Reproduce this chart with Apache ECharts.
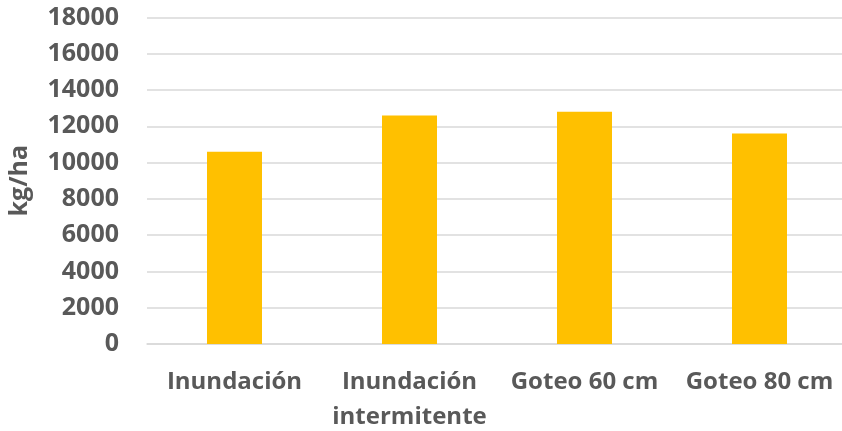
<!DOCTYPE html>
<html>
<head>
<meta charset="utf-8">
<script src="https://cdn.jsdelivr.net/npm/echarts@6/dist/echarts.min.js"></script>
<style>
  html, body { margin: 0; padding: 0; background: #fff; }
  #chart { width: 842px; height: 431px; }
</style>
</head>
<body>
<div id="chart"></div>
<script>
// riego - rendimiento
var categories = ["Inundación", "Inundación\nintermitente", "Goteo 60 cm", "Goteo 80 cm"];
var yields = [10600, 12600, 12800, 11600];
var yTicks = [0, 18000, 2000]; // min, max, step

var chart = echarts.init(document.getElementById("chart"));
var font = "'Open Sans', 'DejaVu Sans', sans-serif";

var option = {
  animation: false,
  grid: {
    left: 147,
    top: 17.5,
    right: -5,
    bottom: 87,
    outerBoundsMode: "none",
    containLabel: false,
  },
  xAxis: {
    type: "category",
    data: categories,
    axisLine: { show: true, lineStyle: { color: "#d9d9d9", width: 1.5 } },
    axisTick: { show: false },
    axisLabel: {
      color: "#595959",
      fontFamily: font,
      fontWeight: "bold",
      fontSize: 24,
      lineHeight: 35,
      margin: 21,
      interval: 0,
    },
  },
  yAxis: {
    type: "value",
    min: yTicks[0],
    max: yTicks[1],
    interval: yTicks[2],
    name: "kg/ha",
    nameLocation: "middle",
    nameGap: 115,
    nameTextStyle: {
      color: "#595959",
      fontFamily: font,
      fontWeight: "bold",
      fontSize: 25,
    },
    axisLine: { show: false },
    axisTick: { show: false },
    splitLine: { lineStyle: { color: "#d9d9d9", width: 1.5 } },
    axisLabel: {
      color: "#595959",
      fontFamily: font,
      fontWeight: "bold",
      fontSize: 25,
      margin: 28,
      formatter: function (v) { return String(v); },
    },
  },
  series: [
    {
      type: "bar",
      data: yields,
      barWidth: 55,
      itemStyle: { color: "#ffc000" },
    },
  ],
};
chart.setOption(option);
</script>
</body>
</html>
